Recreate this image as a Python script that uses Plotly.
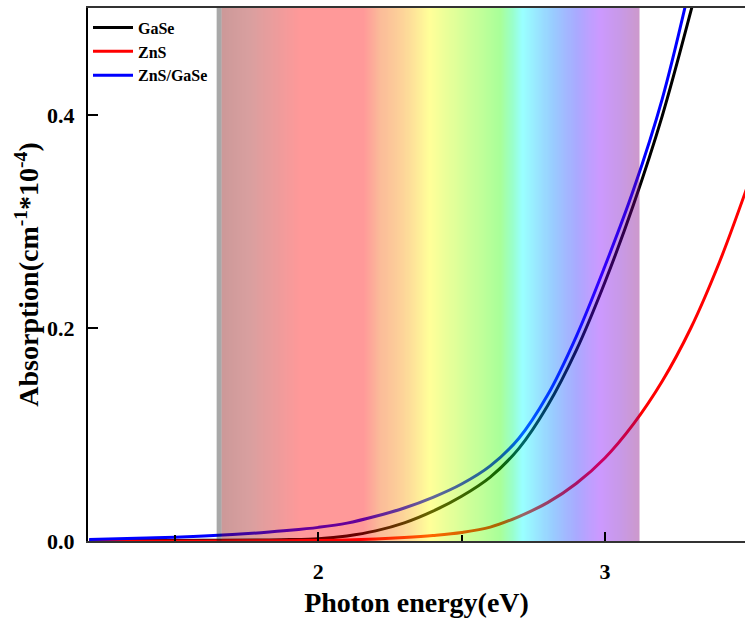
import numpy as np
import plotly.graph_objects as go

# ---------------- data ----------------
energy_gase = [1.2, 1.4, 1.6, 1.8, 1.9, 2.0, 2.1, 2.2, 2.3, 2.4, 2.5, 2.6, 2.7, 2.8, 2.9, 3.0, 3.1, 3.2, 3.3, 3.35]
abs_gase = [0.0002, 0.0004, 0.0006, 0.001, 0.0013, 0.0022, 0.0048, 0.0095, 0.017, 0.028, 0.042, 0.060,
            0.087, 0.127, 0.179, 0.243, 0.316, 0.399, 0.4975, 0.55]

energy_zns = [1.2, 1.6, 1.8, 2.0, 2.1, 2.2, 2.3, 2.4, 2.5, 2.6, 2.7, 2.8, 2.9, 3.0, 3.1, 3.2, 3.3, 3.4, 3.5]
abs_zns = [0.0, 0.0001, 0.0002, 0.0005, 0.001, 0.0019, 0.0033, 0.0052, 0.008, 0.013, 0.023, 0.036,
           0.054, 0.078, 0.110, 0.150, 0.200, 0.262, 0.335]

energy_zg = [1.2, 1.3, 1.4, 1.5, 1.6, 1.7, 1.8, 1.9, 2.0, 2.1, 2.2, 2.3, 2.4, 2.5, 2.6, 2.7, 2.8, 2.9, 3.0, 3.1, 3.2, 3.3]
abs_zg = [0.0015, 0.002, 0.0028, 0.0036, 0.0046, 0.006, 0.0078, 0.010, 0.0128, 0.0168, 0.0232, 0.031,
          0.041, 0.0535, 0.0705, 0.0965, 0.137, 0.192, 0.258, 0.330, 0.415, 0.525]

series_names = ["GaSe", "ZnS", "ZnS/GaSe"]
series_colors = ["#000000", "#ff0000", "#0000ff"]

# visible-light band (eV) and its colours
band_edge_ev = [1.645, 1.662]          # grey edge strip, then colour band start
band_ev = [1.662, 1.76, 1.94, 2.157, 2.216, 2.30, 2.39, 2.52, 2.634, 2.68, 2.714, 2.819, 2.902, 2.983, 3.05, 3.122]
band_rgb = [(128, 0, 0), (160, 17, 17), (255, 0, 0), (255, 0, 0), (245, 85, 0), (250, 150, 0),
            (255, 255, 0), (140, 255, 0), (42, 255, 0), (0, 255, 128), (0, 255, 255), (0, 128, 255),
            (42, 42, 255), (128, 0, 255), (118, 0, 200), (128, 0, 128)]
band_opacity = 0.4

x_range = [1.196, 3.489]
y_range = [0.0, 0.5005]

FONT = "Liberation Serif, Times New Roman, Tinos, DejaVu Serif, serif"

fig = go.Figure()

for e, a, n, c in zip([energy_gase, energy_zns, energy_zg], [abs_gase, abs_zns, abs_zg],
                      series_names, series_colors):
    fig.add_trace(go.Scatter(x=e, y=a, name=n, mode="lines",
                             line=dict(color=c, width=3, shape="spline", smoothing=1.0),
                             xaxis="x", yaxis="y"))

# spectrum band drawn on an overlay axis so it lies above the curves
b0, b1 = band_ev[0], band_ev[-1]
n_cells = 400
edges = np.linspace(b0, b1, n_cells + 1)
centers = (edges[:-1] + edges[1:]) / 2
cscale = [[(ev - b0) / (b1 - b0), "rgb(%d,%d,%d)" % rgb] for ev, rgb in zip(band_ev, band_rgb)]
fig.add_trace(go.Heatmap(x=edges, y=[0, 1], z=[centers], zmin=b0, zmax=b1,
                         colorscale=cscale, showscale=False, opacity=band_opacity,
                         hoverinfo="skip", xaxis="x2", yaxis="y2", showlegend=False))

fig.add_shape(type="rect", xref="x", yref="paper", x0=band_edge_ev[0], x1=band_edge_ev[1],
              y0=0, y1=1, fillcolor="rgba(20,20,20,0.37)", line=dict(width=0), layer="above")

tickfont = dict(family=FONT, size=22, color="black", weight="bold")
titlefont = dict(family=FONT, size=28, color="black", weight="bold")

fig.update_layout(
    width=745, height=629,
    margin=dict(l=88, r=0, t=8, b=88),
    paper_bgcolor="white", plot_bgcolor="white",
    showlegend=True,
    legend=dict(x=0.0, y=0.995, xanchor="left", yanchor="top", itemwidth=40,
                font=dict(family=FONT, size=16, color="black", weight="bold"),
                bgcolor="rgba(255,255,255,0)", borderwidth=0, tracegroupgap=0),
    xaxis=dict(range=x_range, showgrid=False, zeroline=False,
               showline=True, linecolor="#333333", linewidth=2, mirror=True,
               ticks="inside", ticklen=9, tickwidth=2, tickcolor="black",
               tickmode="array", tickvals=[2, 3], ticktext=["2", "3"],
               minor=dict(tickvals=[1.5, 2.5, 3.5], ticks="inside", ticklen=6, tickwidth=1.5, tickcolor="black"),
               tickfont=tickfont, ticklabelstandoff=10,
               title=dict(text="Photon energy(eV)", font=titlefont, standoff=9)),
    yaxis=dict(range=y_range, showgrid=False, zeroline=False,
               showline=True, linecolor="black", linewidth=2,
               ticks="inside", ticklen=10, tickwidth=2, tickcolor="black",
               tickmode="array", tickvals=[0.0, 0.2, 0.4], ticktext=["0.0", "0.2", "0.4"],
               tickfont=tickfont, ticklabelstandoff=7,
               title=dict(text="Absorption(cm<sup>-1</sup>*10<sup>-4</sup>)", font=titlefont, standoff=0)),
    xaxis2=dict(overlaying="x", matches="x", visible=False),
    yaxis2=dict(overlaying="y", range=[0, 1], visible=False),
)

fig.write_html("out.html")
